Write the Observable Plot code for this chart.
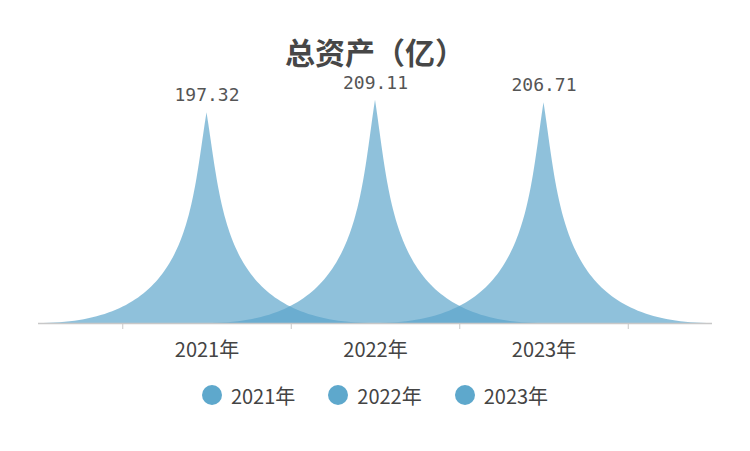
<!DOCTYPE html>
<html>
<head>
<meta charset="utf-8">
<script src="https://cdn.jsdelivr.net/npm/d3@7"></script>
<script src="https://cdn.jsdelivr.net/npm/@observablehq/plot@0.6"></script>
<style>
  html, body { margin: 0; padding: 0; background: #fff; }
  body { width: 750px; height: 451px; overflow: hidden; font-family: "Noto Sans CJK SC", "Noto Sans", sans-serif; }
  #title { height: 70px; box-sizing: border-box; padding-top: 36px; text-align: center;
           font-size: 30px; line-height: 30px; font-weight: bold; color: #474747; }
  #legend { display: flex; justify-content: center; align-items: center; height: 50px; }
  .item { display: flex; align-items: center; margin: 0 16.5px; font-size: 20px; color: #444; }
  .dot { width: 20px; height: 20px; border-radius: 50%; background: #5ea8cc; margin-right: 9px; }
</style>
</head>
<body>
<div id="title">总资产（亿）</div>
<div id="chart"></div>
<div id="legend"></div>
<script>
const categories = ["2021年", "2022年", "2023年"];
const values = [197.32, 209.11, 206.71];
const valueLabels = ["197.32", "209.11", "206.71"];
const axisTicks = [0.5, 1.5, 2.5, 3.5];

// spike glyph (cubic bezier, like the "spike" pictorial symbol): half width = 1 category
function spikePoints(cat, idx, value) {
  const cx = idx + 1, hw = 1, pts = [];
  const bez = (t) => {
    const u = 1 - t;
    const xn = u*u*u*1 + 3*u*u*t*0.1 + 3*u*t*t*0.1;
    const yn = 3*u*t*t*0.5 + t*t*t;
    return [xn, yn];
  };
  const N = 80;
  for (let k = 0; k <= N; k++) { const [xn, yn] = bez(k / N); pts.push({cat, x: cx - hw*xn, y: value*yn}); }
  for (let k = N - 1; k >= 0; k--) { const [xn, yn] = bez(k / N); pts.push({cat, x: cx + hw*xn, y: value*yn}); }
  return pts;
}
const spikes = categories.flatMap((c, i) => spikePoints(c, i, values[i]));
const peaks = categories.map((c, i) => ({cat: c, x: i + 1, y: values[i], label: valueLabels[i]}));

const chart = Plot.plot({
  width: 750,
  height: 300,
  marginLeft: 38,
  marginRight: 38,
  marginTop: 18,
  marginBottom: 47,
  style: {fontFamily: "'Noto Sans CJK SC', 'Noto Sans', sans-serif", background: "#fff"},
  x: {domain: [0, 4], axis: null},
  y: {domain: [0, 220], axis: null},
  marks: [
    Plot.areaY(spikes, {x: "x", y: "y", z: "cat", fill: "#5aa4ca", fillOpacity: 0.68, curve: "linear"}),
    Plot.ruleY([0], {stroke: "#c8c8c8", strokeWidth: 1.5}),
    Plot.axisX(axisTicks, {tickSize: 6, tickFormat: () => "", stroke: "#c8c8c8", label: null}),
    Plot.text(categories, {x: (d, i) => i + 1, y: 0, text: d => d, dy: 27, fontSize: 20, fill: "#444"}),
    Plot.text(peaks, {x: "x", y: "y", text: "label", dy: -17, fontSize: 18,
      fontFamily: "'DejaVu Sans Mono', monospace", fill: "#555"})
  ]
});
document.getElementById("chart").appendChild(chart);

const legend = document.getElementById("legend");
categories.forEach(c => {
  const it = document.createElement("div");
  it.className = "item";
  it.innerHTML = `<span class="dot"></span><span>${c}</span>`;
  legend.appendChild(it);
});
</script>
</body>
</html>
